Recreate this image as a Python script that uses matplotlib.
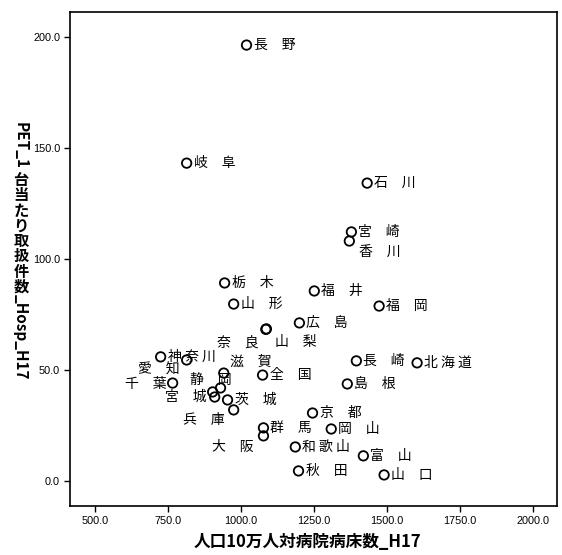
import matplotlib
matplotlib.use('Agg')
import matplotlib.pyplot as plt

# ---- data ----
prefectures = ['長野', '岐阜', '石川', '宮崎', '香川', '栃木', '山形', '福井', '福岡', '広島',
               '山梨', '奈良', '長崎', '北海道', '神奈川', '愛知', '千葉', '滋賀', '静岡', '',
               '宮城', '茨城', '兵庫', '全国', '島根', '京都', '岡山', '群馬', '大阪', '和歌山',
               '富山', '秋田', '山口']
beds_per_100k = [1019, 814, 1432, 1378, 1371, 944, 975, 1251, 1473, 1200,
                 1087, 1085, 1395, 1603, 725, 814, 766, 941, 930, 903,
                 910, 954, 975, 1074, 1364, 1245, 1309, 1077, 1077, 1186,
                 1419, 1197, 1490]
pet_cases = [196.4, 143.2, 134.2, 112.2, 108.1, 89.2, 79.7, 85.6, 78.8, 71.2,
             68.5, 68.3, 54.1, 53.2, 55.9, 54.5, 44.1, 48.6, 41.9, 40.1,
             37.8, 36.5, 32.0, 47.7, 43.7, 30.6, 23.4, 23.9, 20.3, 15.3,
             11.3, 4.5, 2.7]
x_ticks = [500, 750, 1000, 1250, 1500, 1750, 2000]
y_ticks = [0, 50, 100, 150, 200]
x_title = '人口10万人対病院病床数_H17'
y_title_parts = [('PET_1', 'rot'), ('台', 'up'), ('当', 'up'), ('た', 'up'), ('り', 'up'),
                 ('取', 'up'), ('扱', 'up'), ('件', 'up'), ('数', 'up'), ('_Hosp_H17', 'rot')]

# label placement (pixel offsets from marker, +dy = downward)
default_offset = (7, 0)
label_offsets = {'香川': (10, 11), '奈良': (-49, 13), '山梨': (9, 13), '愛知': (-49, 10),
                 '千葉': (-48, 1), '宮城': (-50, 0), '静岡': (-31, -8), '滋賀': (6, -11),
                 '兵庫': (-51, 10), '大阪': (-51, 11)}

CJK = ['Noto Sans CJK JP', 'DejaVu Sans']
W, H = 562, 555
fig = plt.figure(figsize=(W / 100, H / 100), dpi=100)
L, R, T, B = 70, 557, 12, 506
ax = fig.add_axes([L / W, 1 - B / H, (R - L) / W, (B - T) / H])

ax.scatter(beds_per_100k, pet_cases, s=46, facecolors='none', edgecolors='black',
           linewidths=1.3, zorder=3)


def fmt(name):
    if len(name) == 2:
        return name[0] + '\u3000' + name[1]
    return ' '.join(name)


for name, xv, yv in zip(prefectures, beds_per_100k, pet_cases):
    if not name:
        continue
    dx, dy = label_offsets.get(name, default_offset)
    ax.annotate(fmt(name), (xv, yv), xytext=(dx, -dy), textcoords='offset pixels',
                ha='left', va='center', fontsize=10, family=CJK, color='black')

ax.set_xlim(414.6, 2082)
ax.set_ylim(-11.3, 211.3)
ax.set_xticks(x_ticks)
ax.set_yticks(y_ticks)
ax.set_xticklabels([f'{v:.1f}' for v in x_ticks], fontsize=7.8, family='Liberation Sans')
ax.set_yticklabels([f'{v:.1f}' for v in y_ticks], fontsize=7.8, family='Liberation Sans')
ax.tick_params(direction='out', length=4.2, width=1, pad=3)
for sp in ax.spines.values():
    sp.set_linewidth(1.2)

fig.text(307 / W, 1 - 542 / H, x_title, ha='center', va='center', fontsize=12,
         fontweight='bold', family=CJK)

# vertical (tategaki) y-axis title
renderer = fig.canvas.get_renderer()
ypx = 122
xc = 21
fs = 11
em = fs * 100 / 72
for txt, mode in y_title_parts:
    if mode == 'rot':
        t = fig.text(xc / W, 1 - ypx / H, txt, rotation=270, ha='center', va='top',
                     fontsize=fs, fontweight='bold', family=CJK)
        bb = t.get_window_extent(renderer)
        ypx += bb.height + 3
    else:
        t = fig.text(xc / W, 1 - ypx / H, txt, ha='center', va='top',
                     fontsize=fs, fontweight='bold', family=CJK)
        ypx += em

fig.savefig('out.png', dpi=100)
